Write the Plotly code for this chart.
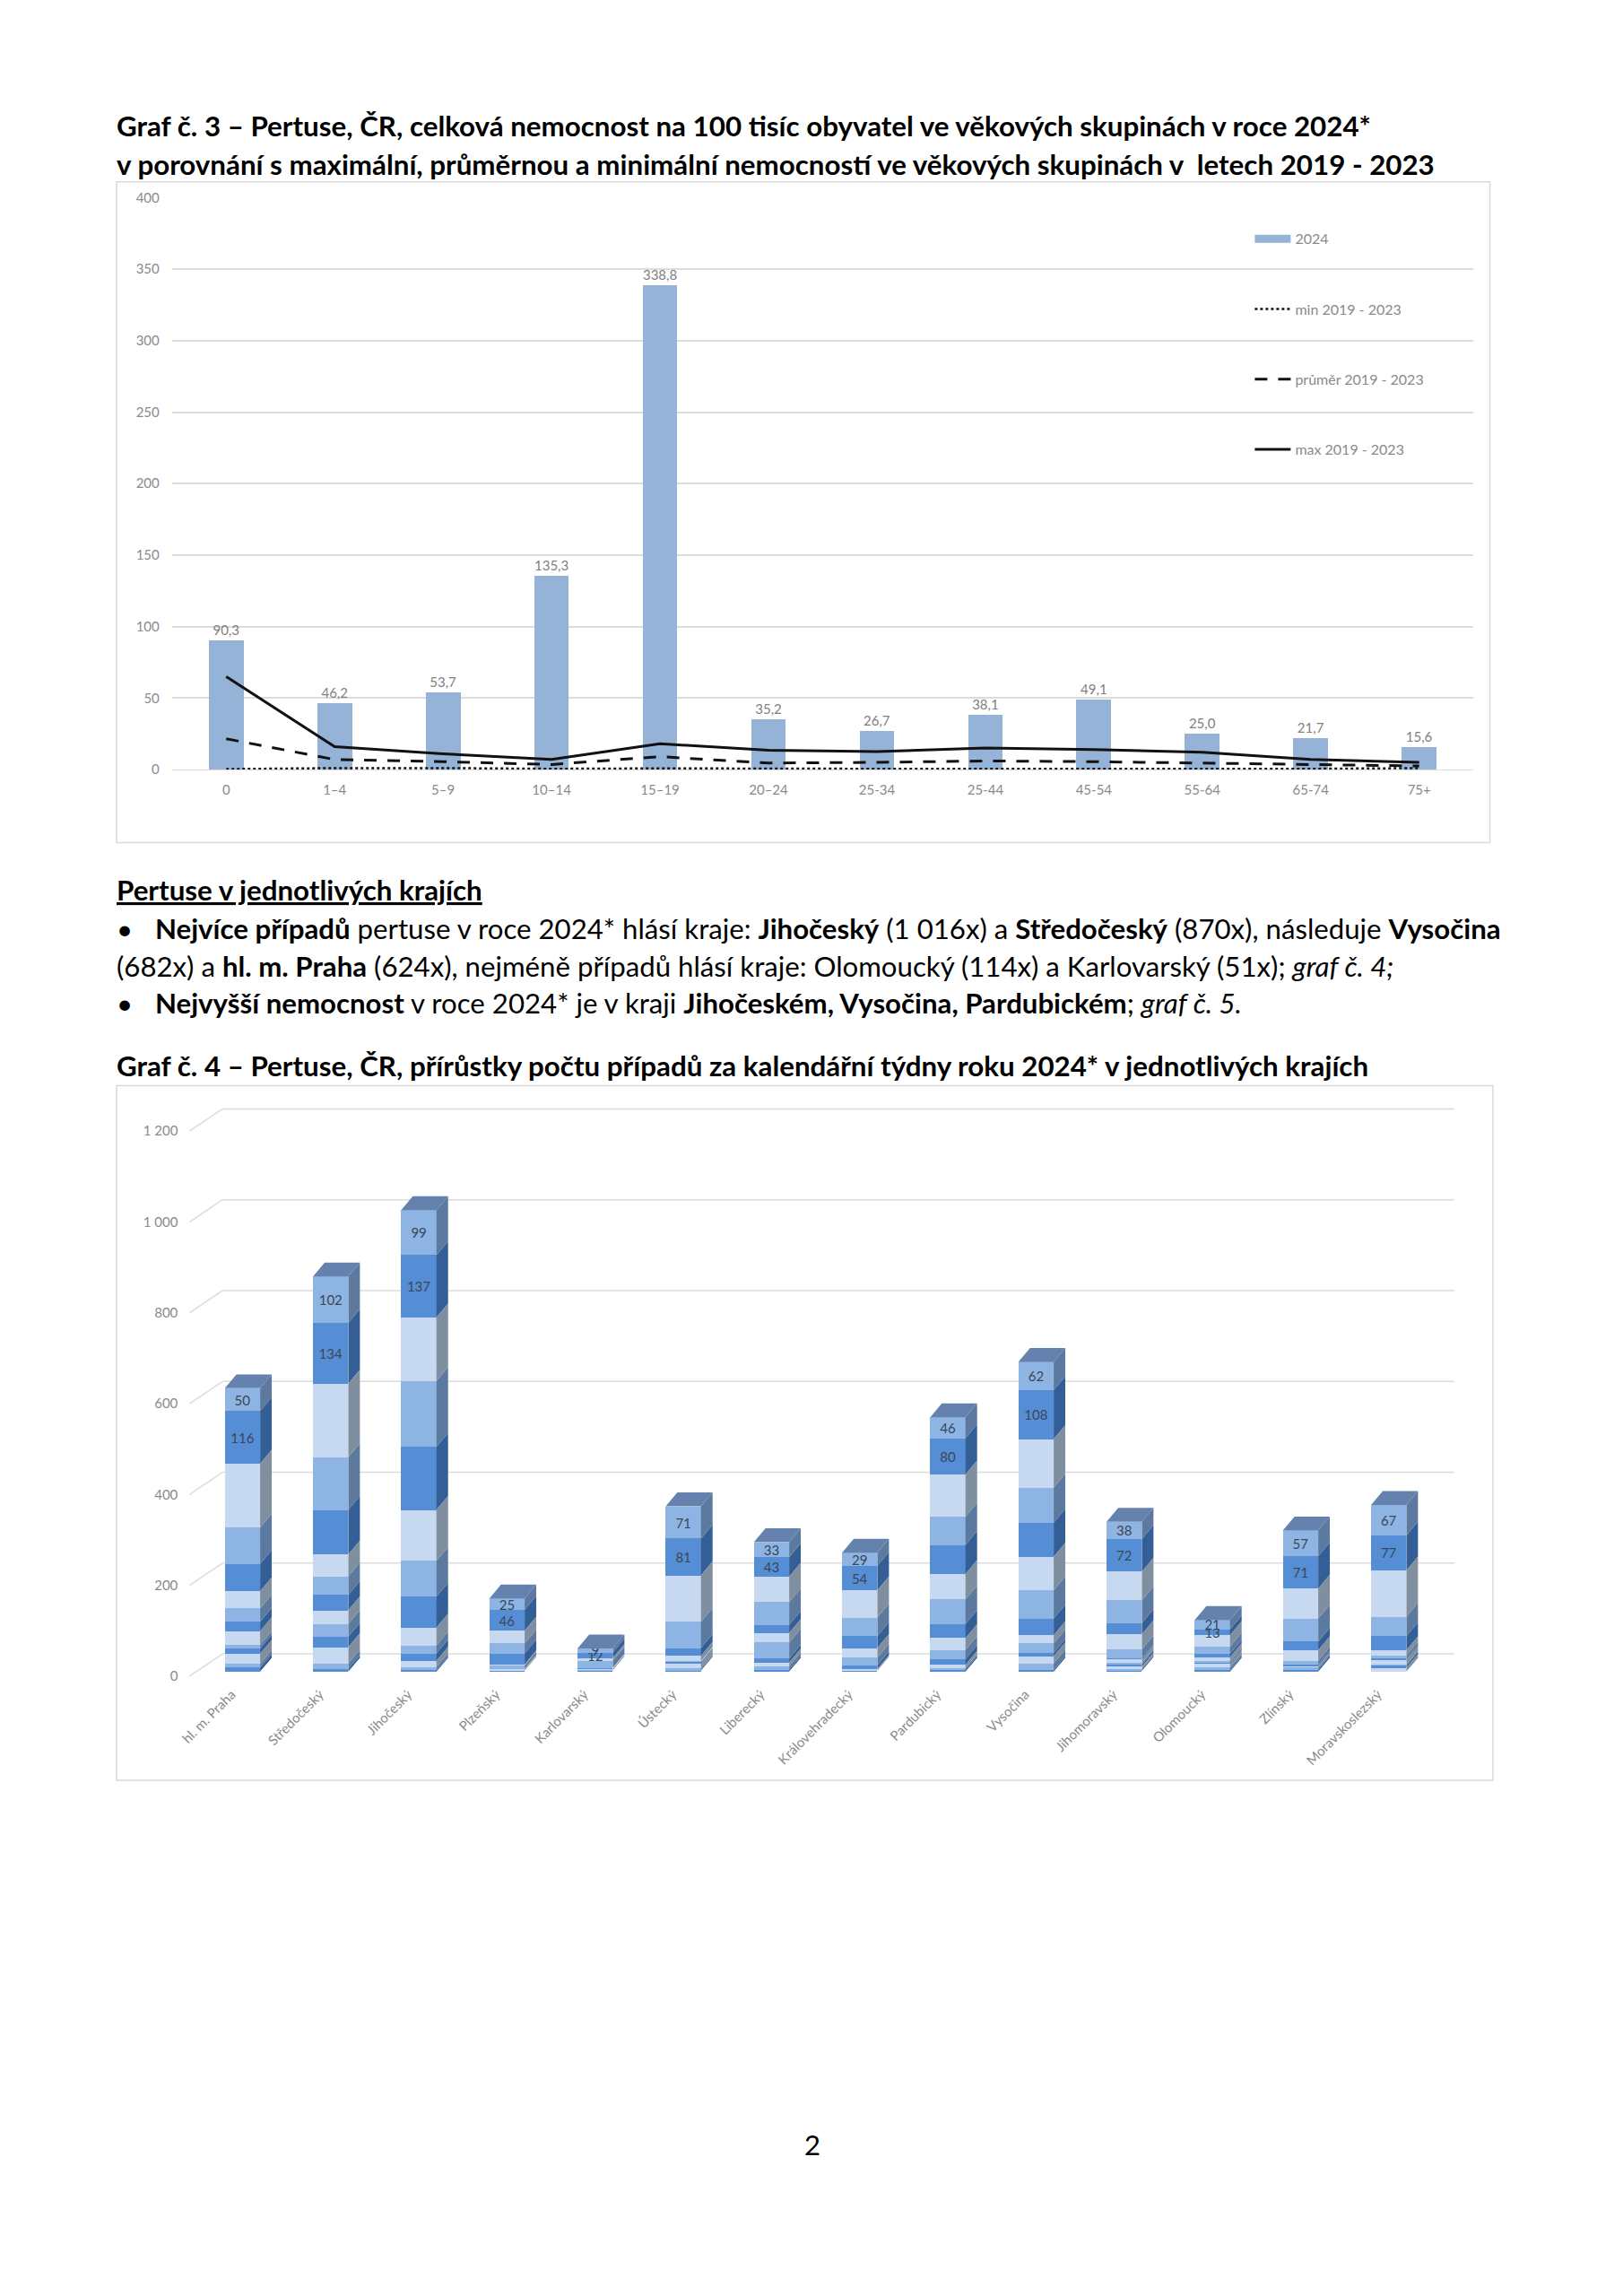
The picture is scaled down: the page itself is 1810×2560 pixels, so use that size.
import plotly.graph_objects as go

W, H = 1810, 2560

# ---------- Graf 3 data ----------
age_groups = ["0", "1–4", "5–9", "10–14", "15–19", "20–24", "25-34", "25-44", "45-54", "55-64", "65-74", "75+"]
rate_2024 = [90.3, 46.2, 53.7, 135.3, 338.8, 35.2, 26.7, 38.1, 49.1, 25.0, 21.7, 15.6]
rate_min = [0.3, 1.0, 1.0, 0.5, 0.8, 0.5, 0.5, 0.5, 0.5, 0.5, 0.5, 1.0]
rate_avg = [21.5, 7.0, 5.5, 3.5, 9.0, 4.5, 5.0, 6.0, 5.5, 4.5, 3.5, 2.5]
rate_max = [65.0, 16.0, 11.0, 7.0, 18.0, 13.5, 12.5, 15.0, 14.0, 12.0, 7.0, 5.0]

# ---------- Graf 4 data: stack segments listed from the top of each column down ----------
regions = ["hl. m. Praha", "Středočeský", "Jihočeský", "Plzeňský", "Karlovarský", "Ústecký", "Liberecký",
           "Královehradecký", "Pardubický", "Vysočina", "Jihomoravský", "Olomoucký", "Zlínský", "Moravskoslezský"]
praha = [50, 116, 141, 80, 60, 38, 29, 21, 30, 8, 12, 22, 8, 9]
stredocesky = [102, 134, 162, 116, 98, 48, 41, 34, 30, 28, 23, 36, 12, 6]
jihocesky = [99, 137, 140, 145, 139, 112, 79, 68, 39, 18, 16, 14, 7, 3]
plzensky = [25, 46, 28, 22, 24, 3, 7, 1, 3, 1, 1, 0, 0, 0]
karlovarsky = [9, 12, 6, 16, 2, 3, 2, 1, 0, 0, 0, 0, 0, 0]
ustecky = [71, 81, 102, 58, 17, 12, 2, 3, 11, 5, 2, 0, 0, 0]
liberecky = [33, 43, 56, 50, 18, 21, 35, 9, 8, 8, 4, 0, 0, 0]
kralovehradecky = [29, 54, 60, 41, 26, 21, 17, 8, 4, 1, 1, 0, 0, 0]
pardubicky = [46, 80, 93, 62, 64, 56, 54, 31, 26, 20, 13, 7, 4, 4]
vysocina = [62, 108, 107, 77, 75, 74, 62, 37, 18, 21, 7, 16, 14, 4]
jihomoravsky = [38, 72, 63, 50, 25, 33, 19, 3, 8, 3, 5, 5, 5, 1]
olomoucky = [21, 13, 25, 16, 7, 9, 3, 3, 8, 6, 3, 0, 0, 0]
zlinsky = [57, 71, 66, 51, 19, 23, 9, 3, 3, 5, 4, 0, 0, 0]
moravskoslezsky = [67, 77, 102, 43, 31, 11, 7, 3, 10, 3, 5, 8, 0, 0]
stacks = [praha, stredocesky, jihocesky, plzensky, karlovarsky, ustecky, liberecky, kralovehradecky,
          pardubicky, vysocina, jihomoravsky, olomoucky, zlinsky, moravskoslezsky]
value_ticks = [0, 200, 400, 600, 800, 1000, 1200]

FONT = "Lato"
GREY = "#8A8A8A"
GRID = "#DCDCDC"
FRONT = ["#558ED5", "#8DB4E2", "#C6D9F1"]      # from the bottom of the stack upwards
SIDE = ["#345F96", "#5C7A9F", "#808F9F"]
TOP = "#6482AD"


def dx(a, b):
    return [a / W, b / W]


def dy(top, bottom):
    return [1 - bottom / H, 1 - top / H]


fig = go.Figure()

# ---------- Graf 3 ----------
x3 = list(range(len(age_groups)))
fig.add_trace(go.Bar(x=x3, y=rate_2024, name="2024", width=0.32, marker=dict(color="#95B3D7", line_width=0),
                     texttemplate="%{y:.1f}", textposition="outside", cliponaxis=False, showlegend=False,
                     textfont=dict(color="#7F7F7F", size=15, family=FONT)))
fig.add_trace(go.Scatter(x=[None], y=[None], name="2024", mode="lines",
                         line=dict(color="#95B3D7", width=9), legendgroup="a"))
fig.add_trace(go.Scatter(x=x3, y=rate_min, name="min 2019 - 2023", mode="lines",
                         line=dict(color="#111111", width=2.5, dash="dot"), legendgroup="b"))
fig.add_trace(go.Scatter(x=x3, y=rate_avg, name="průměr 2019 - 2023", mode="lines",
                         line=dict(color="#111111", width=3, dash="14px,12px"), legendgroup="c"))
fig.add_trace(go.Scatter(x=x3, y=rate_max, name="max 2019 - 2023", mode="lines",
                         line=dict(color="#111111", width=3), legendgroup="d"))

# ---------- Graf 4 ----------
slot = 98.66         # px per region
unit = 0.51          # px per case
depth_x = 13 / slot
depth_y = 15.6 / unit
bar_w = 0.4
x4 = list(range(len(regions)))
n_seg = len(praha)

for k in range(n_seg):                 # k = 0 is the bottom segment position
    idx = n_seg - 1 - k
    vals = [s[idx] for s in stacks]
    labelled = idx < 2
    fig.add_trace(go.Bar(
        x=x4, y=vals, xaxis="x2", yaxis="y2", width=bar_w, showlegend=False,
        marker=dict(color=FRONT[k % 3], line_width=0),
        text=vals if labelled else None,
        textposition="inside" if labelled else None,
        insidetextanchor="middle", textangle=0, constraintext="none", cliponaxis=False,
        textfont=dict(color="#3A4658", size=15, family=FONT)))

# oblique side faces, one polygon list per colour
for c in range(3):
    xs, ys = [], []
    for i, s in enumerate(stacks):
        base = 0
        for k in range(n_seg):
            v = s[n_seg - 1 - k]
            if k % 3 == c and v > 0:
                r = i + bar_w / 2
                xs += [r, r + depth_x, r + depth_x, r, r, None]
                ys += [base, base + depth_y, base + v + depth_y, base + v, base, None]
            base += v
    fig.add_trace(go.Scatter(x=xs, y=ys, xaxis="x2", yaxis="y2", mode="lines", fill="toself", fillcolor=SIDE[c],
                             line=dict(width=0), showlegend=False, hoverinfo="skip"))

# top faces
xs, ys = [], []
for i, s in enumerate(stacks):
    t = sum(s)
    l, r = i - bar_w / 2, i + bar_w / 2
    xs += [l, l + depth_x, r + depth_x, r, l, None]
    ys += [t, t + depth_y, t + depth_y, t, t, None]
fig.add_trace(go.Scatter(x=xs, y=ys, xaxis="x2", yaxis="y2", mode="lines", fill="toself", fillcolor=TOP,
                         line=dict(width=0), showlegend=False, hoverinfo="skip"))

# back wall gridlines and their floor/wall diagonals, behind the columns
wall_lift = 39
front_drop = 10
x_at = lambda px: (px - 265.3) / slot
shapes = []
for t in value_ticks:
    shapes.append(dict(type="line", xref="x2", yref="y2", x0=x_at(243), x1=x_at(1621.5), y0=t + wall_lift,
                       y1=t + wall_lift, line=dict(color=GRID, width=1.5), layer="below"))
    shapes.append(dict(type="line", xref="x2", yref="y2", x0=x_at(206), x1=x_at(243), y0=t - front_drop,
                       y1=t + wall_lift, line=dict(color=GRID, width=1.5), layer="below"))
# chart frames
for (a, b, c, d) in [(124.5, 194, 1661, 936), (124.5, 1209, 1664.5, 1989)]:
    shapes.append(dict(type="rect", xref="paper", yref="paper", x0=a / W, x1=c / W, y0=1 - b / H, y1=1 - d / H,
                       line=dict(color="#D9D9D9", width=1.5), layer="below"))

# ---------- Page text ----------
def txt(x, y, s, size, anchor="left"):
    return dict(xref="paper", yref="paper", x=x / W, y=1 - y / H, text=s, showarrow=False, xanchor=anchor,
                yanchor="middle", align="left", font=dict(family=FONT, size=size, color="#000000"))


T = 31.3
B = 31.2
annotations = [
    txt(122, 131, "<b>Graf č. 3 – Pertuse, ČR, celková nemocnost na 100 tisíc obyvatel ve věkových skupinách v roce 2024*</b>", T),
    txt(122, 174, "<b>v porovnání s maximální, průměrnou a minimální nemocností ve věkových skupinách v  letech 2019 - 2023</b>", T),
    txt(122, 989, "<b><u>Pertuse v jednotlivých krajích</u></b>", T),
    txt(122, 1032, "•", B),
    txt(166, 1032, "<b>Nejvíce případů</b> pertuse v roce 2024* hlásí kraje: <b>Jihočeský</b> (1 016x) a <b>Středočeský</b> (870x), následuje <b>Vysočina</b>", B),
    txt(122, 1075, "(682x) a <b>hl. m. Praha</b> (624x), nejméně případů hlásí kraje: Olomoucký (114x) a Karlovarský (51x); <i>graf č. 4;</i>", B),
    txt(122, 1116, "•", B),
    txt(166, 1116, "<b>Nejvyšší nemocnost</b> v roce 2024* je v kraji <b>Jihočeském, Vysočina, Pardubickém</b>; <i>graf č. 5.</i>", B),
    txt(122, 1186, "<b>Graf č. 4 – Pertuse, ČR, přírůstky počtu případů za kalendářní týdny roku 2024* v jednotlivých krajích</b>", T),
    txt(903, 2398, "2", 31, "center"),
]

tick_font = dict(family=FONT, size=15, color=GREY)
fig.update_layout(
    width=W, height=H, margin=dict(l=0, r=0, t=0, b=0), paper_bgcolor="white", plot_bgcolor="rgba(0,0,0,0)",
    separators=", ", barmode="stack", shapes=shapes, annotations=annotations,
    font=dict(family=FONT),
    xaxis=dict(domain=dx(186.4, 1642.6), anchor="y", range=[-0.5, 11.5], tickmode="array", tickvals=x3, ticktext=age_groups,
               showgrid=False, zeroline=False, showline=True, linecolor=GRID, ticks="", tickfont=tick_font, ticklabelstandoff=9),
    yaxis=dict(domain=dy(212, 854), anchor="x", range=[0, 400], dtick=50, gridcolor=GRID, gridwidth=1.5, zeroline=False,
               tickfont=tick_font, ticks="", showline=False, ticklabelstandoff=13),
    xaxis2=dict(domain=dx(200, 1638), anchor="y2", range=[x_at(200), x_at(1638)], tickmode="array", tickvals=x4,
                ticktext=regions, tickangle=-45, showgrid=False, zeroline=False, showline=False, ticks="",
                tickfont=tick_font, ticklabelshift=-12),
    yaxis2=dict(domain=dy(1214, 1880), anchor="x2", range=[(1867 - 1880) / unit, (1867 - 1214) / unit],
                tickmode="array", tickvals=value_ticks, tickformat=",d", showgrid=False, zeroline=False,
                ticks="", tickfont=tick_font, ticklabelshift=5, ticklabelstandoff=6),
    legend=dict(x=1393 / W, y=1 - 241 / H, xanchor="left", yanchor="top", traceorder="grouped", tracegroupgap=54.5,
                itemwidth=40, bgcolor="rgba(0,0,0,0)", font=dict(family=FONT, size=16, color=GREY)),
)

fig.write_html("out.html", config={"displayModeBar": False}, post_script="document.body.style.margin='0';")
